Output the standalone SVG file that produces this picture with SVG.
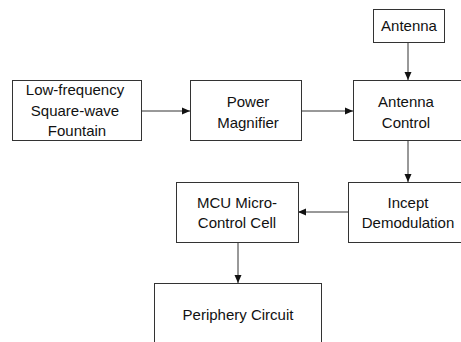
<svg xmlns="http://www.w3.org/2000/svg" width="461" height="342" viewBox="0 0 461 342">
<style>
.box{fill:#fff;stroke:#333;stroke-width:1}
.t{font-family:"Liberation Sans",Arial,sans-serif;font-size:15px;fill:#111;text-anchor:middle}
.c{stroke:#333;stroke-width:1;fill:none;marker-end:url(#ah)}
</style>
<defs>
<marker id="ah" viewBox="0 0 8 8" refX="8" refY="4" markerWidth="8" markerHeight="8" markerUnits="userSpaceOnUse" orient="auto">
<path d="M0,0.5 L8,4 L0,7.5 z" fill="#111"/>
</marker>
</defs>
<rect width="461" height="342" fill="#fff"/>
<g id="connectors">
<line class="c" x1="141" y1="111" x2="190" y2="111"/>
<line class="c" x1="301" y1="111" x2="353" y2="111"/>
<line class="c" x1="408" y1="42" x2="408" y2="80"/>
<line class="c" x1="408" y1="141" x2="408" y2="182"/>
<line class="c" x1="348" y1="212" x2="298" y2="212"/>
<line class="c" x1="238" y1="242" x2="238" y2="283"/>
</g>
<g id="antenna">
<rect class="box" x="373.5" y="9.5" width="71" height="33"/>
<text class="t" x="409" y="31">Antenna</text>
</g>
<g id="lowfreq">
<rect class="box" x="12.5" y="80.5" width="129" height="60"/>
<text class="t" x="75" y="95">Low-frequency</text>
<text class="t" x="75" y="116">Square-wave</text>
<text class="t" x="77" y="136">Fountain</text>
</g>
<g id="power">
<rect class="box" x="190.5" y="80.5" width="111" height="60"/>
<text class="t" x="248" y="107">Power</text>
<text class="t" x="248" y="128">Magnifier</text>
</g>
<g id="antennacontrol">
<rect class="box" x="353.5" y="80.5" width="120" height="60"/>
<text class="t" x="406" y="107">Antenna</text>
<text class="t" x="406" y="128">Control</text>
</g>
<g id="incept">
<rect class="box" x="348.5" y="182.5" width="125" height="60"/>
<text class="t" x="408" y="208">Incept</text>
<text class="t" x="408" y="228">Demodulation</text>
</g>
<g id="mcu">
<rect class="box" x="176.5" y="182.5" width="122" height="60"/>
<text class="t" x="237" y="208">MCU Micro-</text>
<text class="t" x="237" y="228">Control Cell</text>
</g>
<g id="periphery">
<rect class="box" x="154.5" y="283.5" width="167" height="70"/>
<text class="t" x="238" y="320">Periphery Circuit</text>
</g>
</svg>
